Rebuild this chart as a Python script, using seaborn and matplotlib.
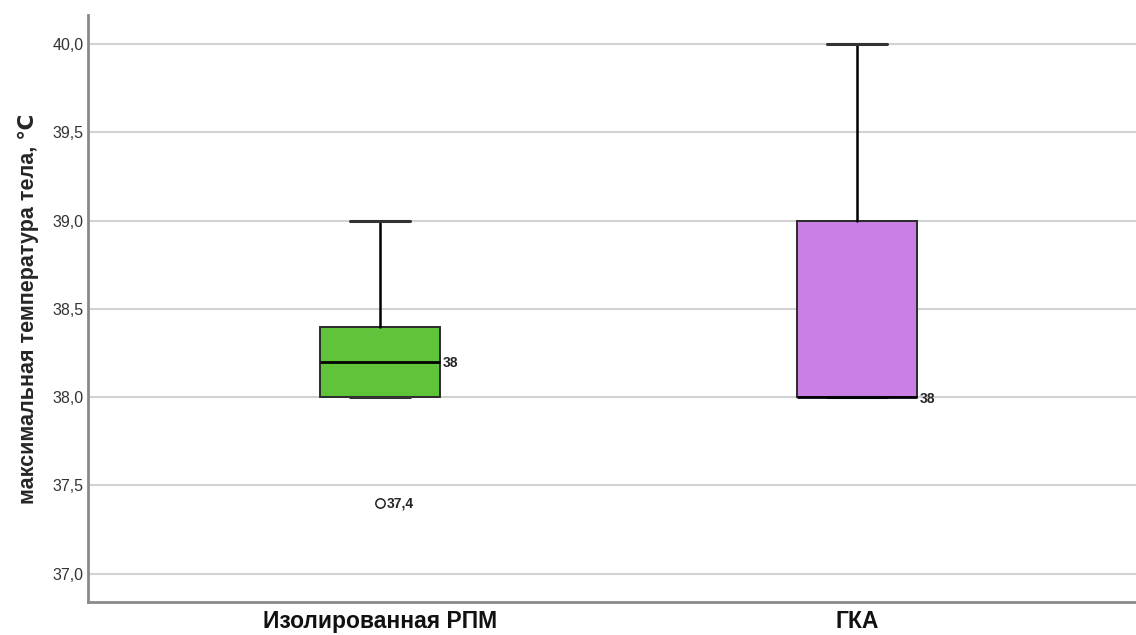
import matplotlib
matplotlib.use("Agg")
import matplotlib.pyplot as plt
import seaborn as sns
import pandas as pd

# Summary statistics of maximum body temperature per group
groups = ["Изолированная РПМ", "ГКА"]
q1 = [38.0, 38.0]
medians = [38.2, 38.0]
q3 = [38.4, 39.0]
whisker_low = [38.0, 38.0]
whisker_high = [39.0, 40.0]
outlier_group = [0]
outlier_values = [37.4]
outlier_texts = ["37,4"]

# Case labels printed beside the boxes
case_label_group = [0, 1]
case_label_values = [38.2, 38.0]
case_label_texts = ["38", "38"]

y_ticks = [37.0, 37.5, 38.0, 38.5, 39.0, 39.5, 40.0]
y_tick_labels = ["37,0", "37,5", "38,0", "38,5", "39,0", "39,5", "40,0"]

box_colors = ["#5fc43a", "#c97fe3"]

sns.set_theme(style="white")
plt.rcParams["font.family"] = ["Liberation Sans", "DejaVu Sans"]

fig = plt.figure(figsize=(11.36, 6.35), dpi=100)
ax = fig.add_axes([88 / 1136, 33 / 635, 1 - 88 / 1136, 587 / 635])

stats = []
for i, name in enumerate(groups):
    stats.append(dict(label=name, q1=q1[i], med=medians[i], q3=q3[i],
                      whislo=whisker_low[i], whishi=whisker_high[i], fliers=[]))

bp = ax.bxp(stats, positions=list(range(len(groups))), widths=0.252,
            capwidths=0.126, patch_artist=True, showfliers=False,
            boxprops=dict(edgecolor="#2b2b2b", linewidth=1.4),
            medianprops=dict(color="black", linewidth=2.0),
            whiskerprops=dict(color="black", linewidth=1.8),
            capprops=dict(color="#333333", linewidth=2.2), zorder=3)
for patch, c in zip(bp["boxes"], box_colors):
    patch.set_facecolor(c)

out_df = pd.DataFrame({"x": outlier_group, "y": outlier_values})
sns.scatterplot(data=out_df, x="x", y="y", ax=ax, marker="o", s=45,
                facecolor="white", edgecolor="#222222", linewidth=1.1, zorder=4)
for gx, yv, t in zip(outlier_group, outlier_values, outlier_texts):
    ax.annotate(t, (gx, yv), xytext=(5, 0), textcoords="offset points",
                ha="left", va="center", fontsize=10, fontweight="bold")

for gx, yv, t in zip(case_label_group, case_label_values, case_label_texts):
    ax.annotate(t, (gx + 0.126, yv), xytext=(2, -0.5 if gx == 0 else -1.5),
                textcoords="offset points", ha="left", va="center",
                fontsize=10, fontweight="bold")

ax.set_xlim(-0.612, 1.585)
ax.set_ylim(36.84, 40.165)
ax.set_yticks(y_ticks)
ax.set_yticklabels(y_tick_labels, fontsize=11.5, color="#333333")
ax.set_xticks(range(len(groups)))
ax.set_xticklabels(groups, fontsize=16.5, fontweight="bold", color="#111111")
ax.tick_params(axis="both", length=0)
ax.tick_params(axis="y", pad=3)
ax.tick_params(axis="x", pad=6)

ax.set_xlabel("")
ax.set_ylabel("максимальная температура тела, ℃", fontsize=15.5,
              fontweight="bold", labelpad=10)

ax.yaxis.grid(True, color="#d2d2d2", linewidth=1.5, zorder=0)
ax.xaxis.grid(False)
ax.set_axisbelow(True)
for side in ["top", "right"]:
    ax.spines[side].set_visible(False)
for side in ["left", "bottom"]:
    ax.spines[side].set_color("#8a8a8a")
    ax.spines[side].set_linewidth(2)

fig.savefig("out.png", dpi=100, facecolor="white")
